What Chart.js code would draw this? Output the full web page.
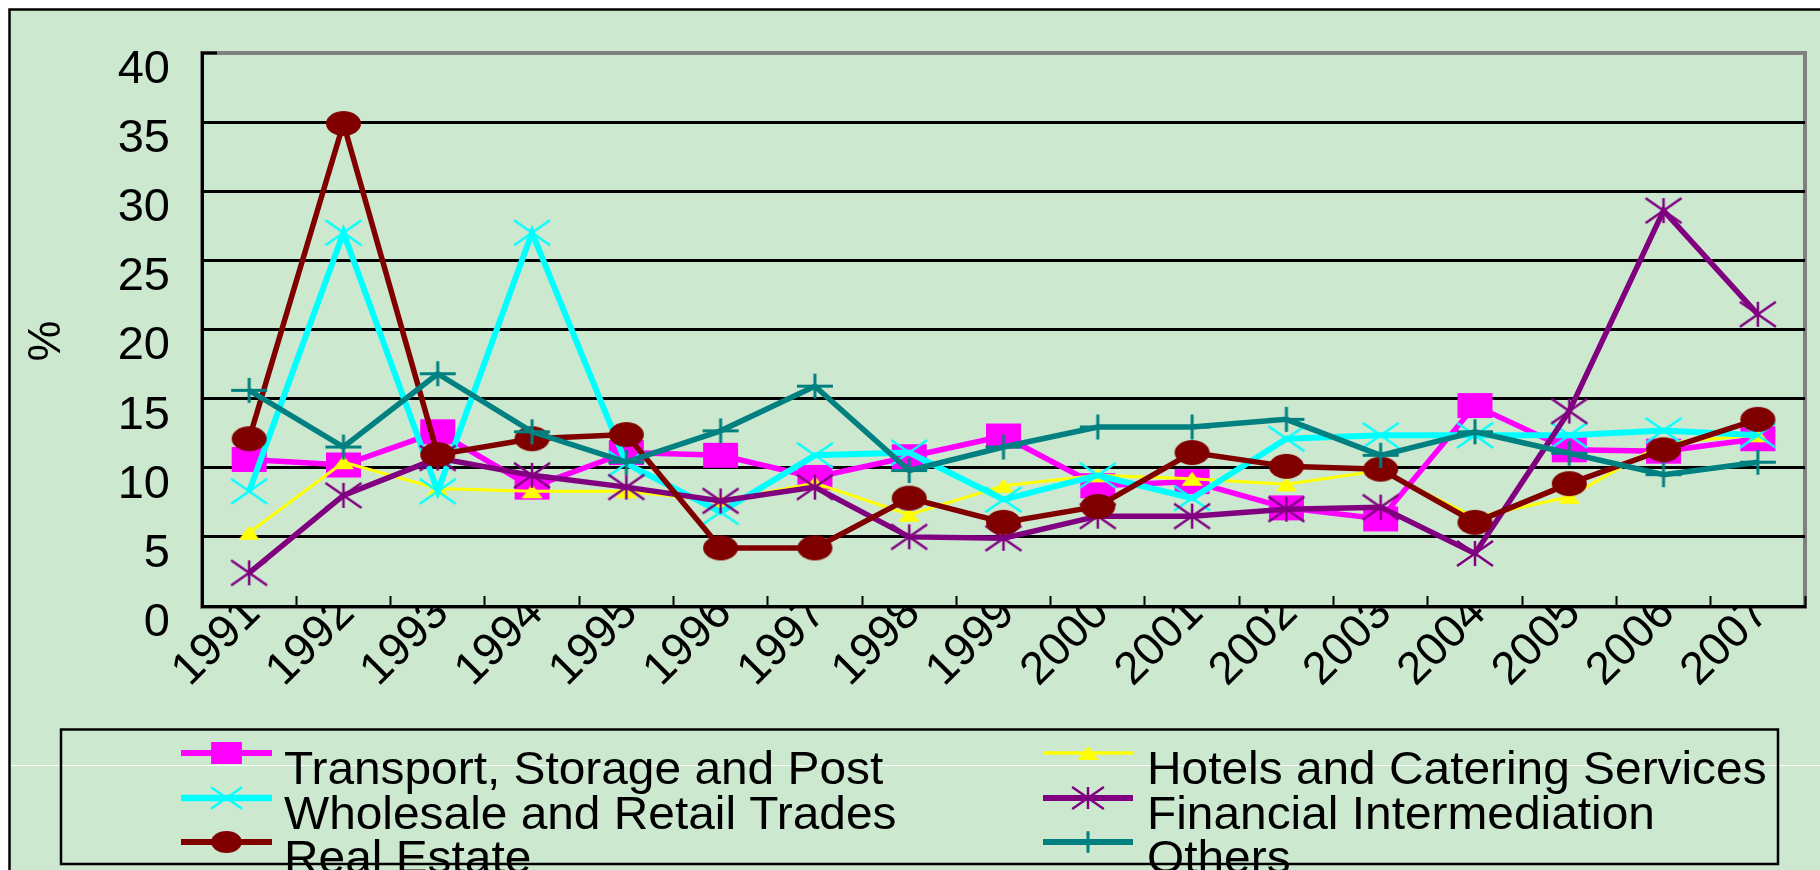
<!DOCTYPE html>
<html><head><meta charset="utf-8">
<style>html,body{margin:0;padding:0;background:#fff;}canvas{display:block;}</style>
<script src="https://cdn.jsdelivr.net/npm/chart.js@4.4.0/dist/chart.umd.min.js"></script>
</head><body>
<canvas id="c" width="1820" height="870"></canvas>
<script>
// ---------- data ----------
const years = ['1991','1992','1993','1994','1995','1996','1997','1998','1999','2000','2001','2002','2003','2004','2005','2006','2007'];
const seriesNames = ['Transport, Storage and Post','Hotels and Catering Services','Wholesale and Retail Trades','Financial Intermediation','Real Estate','Others'];
const transport  = [10.6, 10.2, 12.6, 8.6, 11.1, 10.9, 9.3, 10.8, 12.3, 8.7, 9.0, 7.1, 6.3, 14.5, 11.3, 11.2, 12.1];
const hotels     = [5.3, 10.4, 8.5, 8.3, 8.3, 7.6, 8.9, 6.6, 8.7, 9.45, 9.2, 8.8, 9.8, 6.4, 7.9, 11.8, 12.35];
const wholesale  = [8.3, 27.0, 8.3, 27.0, 10.3, 6.8, 10.9, 11.1, 7.7, 9.45, 7.8, 12.1, 12.35, 12.35, 12.35, 12.7, 12.35];
const financial  = [2.4, 8.0, 10.7, 9.45, 8.6, 7.6, 8.6, 5.0, 4.9, 6.5, 6.5, 7.0, 7.15, 3.8, 14.1, 28.6, 21.1];
const realEstate = [12.1, 34.9, 10.95, 12.1, 12.4, 4.2, 4.2, 7.8, 6.05, 7.2, 11.1, 10.1, 9.9, 6.05, 8.85, 11.3, 13.5];
const others     = [15.6, 11.5, 16.8, 12.6, 10.4, 12.67, 15.9, 9.8, 11.5, 12.95, 12.95, 13.5, 10.9, 12.6, 11.05, 9.5, 10.4];
const yMin = 0, yMax = 40, yStep = 5;
const yTitle = '%';

// ---------- styles ----------
const FONT = '"Liberation Sans", Arial, Helvetica, sans-serif';
const GREEN = 'rgb(204,232,207)';
Chart.defaults.font.family = FONT;

function makeMarker(kind, color, w, h, sw){
  const pad = Math.ceil(sw || 0) + 2;
  const c = document.createElement('canvas');
  c.width = Math.round(w + 2*pad); c.height = Math.round(h + 2*pad);
  const g = c.getContext('2d');
  const cx = c.width/2, cy = c.height/2, hw = w/2, hh = h/2;
  g.fillStyle = color; g.strokeStyle = color; g.lineWidth = sw || 1;
  g.beginPath();
  if (kind === 'rect') { g.rect(cx-hw, cy-hh, w, h); g.fill(); }
  else if (kind === 'ellipse') { g.ellipse(cx, cy, hw, hh, 0, 0, Math.PI*2); g.fill(); }
  else if (kind === 'triangle') { g.moveTo(cx, cy-hh); g.lineTo(cx+hw, cy+hh); g.lineTo(cx-hw, cy+hh); g.closePath(); g.fill(); }
  else {
    if (kind === 'cross' || kind === 'star') { g.moveTo(cx-hw, cy-hh); g.lineTo(cx+hw, cy+hh); g.moveTo(cx+hw, cy-hh); g.lineTo(cx-hw, cy+hh); }
    if (kind === 'star' || kind === 'plus') { g.moveTo(cx, cy-hh); g.lineTo(cx, cy+hh); }
    if (kind === 'plus') { g.moveTo(cx-hw, cy); g.lineTo(cx+hw, cy); }
    g.stroke();
  }
  return c;
}

const styleList = [
  {color:'#FF00FF', kind:'rect',     w:35, h:25, sw:0,   lw:5.5, lscale:0.88},
  {color:'#FFFF00', kind:'triangle', w:21, h:14, sw:0,   lw:3,   lscale:1.0},
  {color:'#00FFFF', kind:'cross',    w:36, h:25, sw:2.2, lw:6,   lscale:0.86},
  {color:'#800080', kind:'star',     w:36, h:25, sw:2.5, lw:5.5, lscale:0.88},
  {color:'#800000', kind:'ellipse',  w:35, h:25, sw:0,   lw:5.5, lscale:0.88},
  {color:'#008080', kind:'plus',     w:36, h:25, sw:3,   lw:5.5, lscale:0.86},
];
const seriesData = [transport, hotels, wholesale, financial, realEstate, others];

const datasets = seriesData.map((d, i) => {
  const s = styleList[i];
  return {
    label: seriesNames[i],
    data: d,
    borderColor: s.color,
    backgroundColor: s.color,
    borderWidth: s.lw,
    tension: 0,
    pointRadius: 6,
    pointStyle: makeMarker(s.kind, s.color, s.w, s.h, s.sw),
    order: seriesData.length - i,
    _legendMarker: makeMarker(s.kind, s.color, s.kind==='triangle'? s.w : s.w*s.lscale, s.kind==='triangle'? s.h : s.h*s.lscale, s.sw),
  };
});

const decor = {
  id: 'decor',
  beforeDraw(chart) {
    const ctx = chart.ctx, W = chart.width, H = chart.height, a = chart.chartArea;
    ctx.save();
    ctx.fillStyle = '#fff'; ctx.fillRect(0, 0, W, H);
    ctx.fillStyle = GREEN; ctx.fillRect(9, 9, W - 9, H - 9);
    ctx.strokeStyle = '#000'; ctx.lineWidth = 2.5;
    ctx.beginPath(); ctx.moveTo(9.5, H); ctx.lineTo(9.5, 9.5); ctx.lineTo(W, 9.5); ctx.stroke();
    ctx.strokeStyle = '#fff'; ctx.lineWidth = 1;
    ctx.beginPath(); ctx.moveTo(11, 765.5); ctx.lineTo(W, 765.5); ctx.stroke();
    ctx.strokeStyle = '#808080'; ctx.lineWidth = 4;
    ctx.strokeRect(a.left, a.top, a.right - a.left, a.bottom - a.top + 1);
    ctx.restore();
  },
  afterDraw(chart) {
    const ctx = chart.ctx;
    ctx.save();
    ctx.fillStyle = '#000';
    ctx.font = '46px ' + FONT;
    ctx.textAlign = 'center'; ctx.textBaseline = 'middle';
    ctx.translate(47.5, 341); ctx.rotate(-Math.PI/2); ctx.fillText(yTitle, 0, 0);
    ctx.restore();
    ctx.save();
    ctx.strokeStyle = '#000'; ctx.lineWidth = 2.5;
    ctx.strokeRect(61, 729.5, 1717, 134.5);
    const rows = [753, 798, 842];
    const cols = [{x0:181, x1:272, tx:284}, {x0:1043, x1:1133, tx:1147}];
    chart.data.datasets.forEach((ds, i) => {
      const col = cols[i % 2], y = rows[Math.floor(i / 2)];
      ctx.strokeStyle = ds.borderColor; ctx.lineWidth = ds.borderWidth + 0.5;
      ctx.beginPath(); ctx.moveTo(col.x0, y); ctx.lineTo(col.x1, y); ctx.stroke();
      const m = ds._legendMarker;
      ctx.drawImage(m, (col.x0 + col.x1)/2 - m.width/2, y - m.height/2);
      ctx.save();
      ctx.fillStyle = '#000'; ctx.font = '46px ' + FONT;
      ctx.textAlign = 'left'; ctx.textBaseline = 'alphabetic';
      ctx.translate(col.tx, y + 31); ctx.scale(1.04, 1);
      ctx.fillText(ds.label, 0, 0);
      ctx.restore();
    });
    ctx.restore();
  }
};

new Chart(document.getElementById('c'), {
  type: 'line',
  data: { labels: years, datasets },
  plugins: [decor],
  options: {
    responsive: false, animation: false, devicePixelRatio: 1,
    layout: { padding: { left: 0, right: 15, top: 53, bottom: 0 } },
    plugins: { legend: { display: false }, tooltip: { enabled: false } },
    scales: {
      x: {
        type: 'category', offset: true,
        grid: { display: true, drawOnChartArea: false, drawTicks: true, tickLength: -10, tickColor: '#000', tickWidth: 2, offset: true },
        border: { display: true, color: '#000', width: 3 },
        ticks: { autoSkip: false, maxRotation: 45, minRotation: 45, padding: -9.5, labelOffset: 4, color: '#000', font: { size: 46 } },
        afterFit(s) { s.height = 264; s.paddingLeft = 0; s.paddingRight = 0; }
      },
      y: {
        min: yMin, max: yMax,
        ticks: { stepSize: yStep, padding: 47, labelOffset: 17, color: '#000', font: { size: 47 } },
        grid: {
          color: c => (c.tick && c.tick.value === yMax) ? '#808080' : '#000',
          lineWidth: c => (c.tick && c.tick.value === yMax) ? 4 : 3,
          drawTicks: true, tickLength: -15, tickColor: '#000', tickWidth: 3
        },
        border: { display: true, color: '#000', width: 3 },
        afterFit(s) { s.width = 202; s.paddingTop = 0; s.paddingBottom = 0; }
      }
    }
  }
});
</script>
</body></html>
